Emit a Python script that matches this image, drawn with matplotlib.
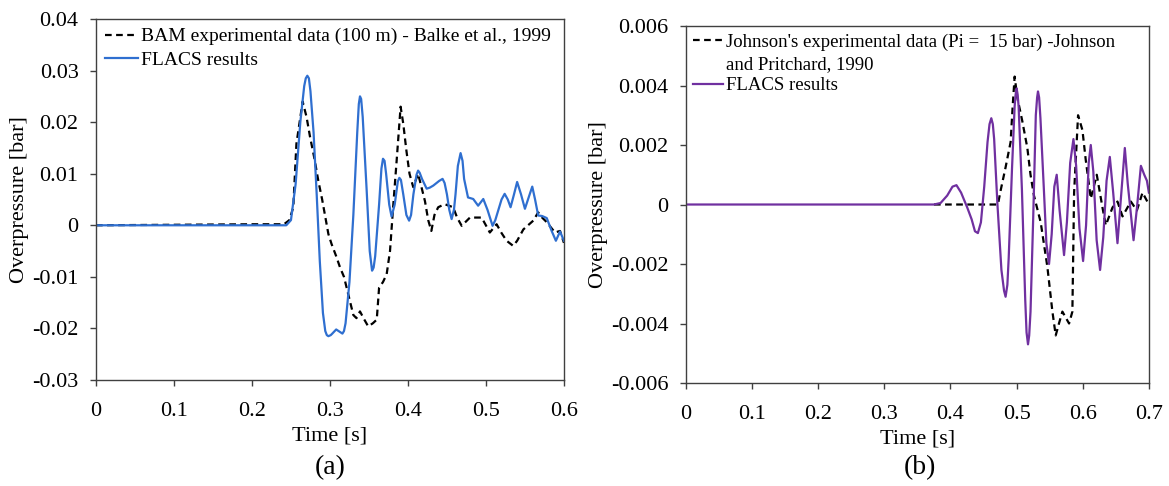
import matplotlib
matplotlib.use("Agg")
import matplotlib.pyplot as plt
from matplotlib.lines import Line2D
from matplotlib.ticker import FormatStrFormatter

plt.rcParams['font.family'] = ['Liberation Serif', 'DejaVu Serif']
plt.rcParams['axes.unicode_minus'] = False

# (a) BAM experiment vs FLACS
bam_t = [0, 0.20, 0.241, 0.248, 0.253, 0.257, 0.2615, 0.265, 0.270, 0.2744, 0.280, 0.285, 0.290,
         0.298, 0.302, 0.308, 0.313, 0.318, 0.3235, 0.330, 0.334, 0.3385, 0.343, 0.349, 0.355,
         0.360, 0.363, 0.368, 0.3727, 0.377, 0.381, 0.3855, 0.3906, 0.394, 0.398, 0.402, 0.4068,
         0.413, 0.418, 0.4218, 0.426, 0.430, 0.434, 0.4388, 0.447, 0.458, 0.463, 0.4689, 0.4795,
         0.4945, 0.505, 0.5137, 0.520, 0.5265, 0.535, 0.540, 0.548, 0.5607, 0.567, 0.572, 0.578,
         0.5885, 0.595, 0.600]
bam_p = [0, 0.0002, 0.0002, 0.001, 0.0035, 0.0158, 0.0204, 0.024, 0.021, 0.0172, 0.013, 0.0087, 0.005,
         -0.0017, -0.0036, -0.006, -0.0082, -0.010, -0.0134, -0.0174, -0.018, -0.0167, -0.018, -0.0196, -0.019,
         -0.0183, -0.0121, -0.011, -0.0095, -0.005, 0.0035, 0.0125, 0.023, 0.0197, 0.0145, 0.010, 0.0074,
         0.010, 0.007, 0.0047, 0.001, -0.0011, 0.002, 0.0035, 0.0041, 0.0035, 0.0015, -0.0001, 0.0015,
         0.0015, -0.0014, 0.0002, -0.0015, -0.003, -0.004, -0.003, -0.0008, 0.0009, 0.0025, 0.0015, 0.0006,
         -0.0014, -0.0011, -0.0034]

flacs_a_t = [0, 0.244, 0.250, 0.256, 0.262, 0.267, 0.269, 0.271, 0.273, 0.275, 0.279, 0.283, 0.287,
             0.291, 0.294, 0.296, 0.298, 0.301, 0.303, 0.308, 0.313, 0.316, 0.318, 0.320, 0.325, 0.330,
             0.335, 0.337, 0.3385, 0.340, 0.342, 0.347, 0.351, 0.354, 0.356, 0.358, 0.363, 0.366, 0.368,
             0.370, 0.372, 0.376, 0.379, 0.383, 0.387, 0.389, 0.391, 0.394, 0.398, 0.4015, 0.404, 0.407,
             0.411, 0.413, 0.415, 0.418, 0.424, 0.428, 0.4325, 0.440, 0.4444, 0.447, 0.450, 0.453,
             0.456, 0.459, 0.461, 0.464, 0.4675, 0.470, 0.472, 0.477, 0.4837, 0.490, 0.4966, 0.502,
             0.5085, 0.512, 0.516, 0.520, 0.524, 0.528, 0.5316, 0.536, 0.540, 0.545, 0.550, 0.555,
             0.5594, 0.563, 0.567, 0.572, 0.578, 0.584, 0.5897, 0.595, 0.600]
flacs_a_p = [0, 0, 0.001, 0.008, 0.020, 0.027, 0.0285, 0.029, 0.0285, 0.026, 0.018, 0.006, -0.007,
             -0.017, -0.0205, -0.0213, -0.0215, -0.0213, -0.021, -0.0202, -0.0207, -0.021, -0.0205, -0.019,
             -0.011, 0.002, 0.018, 0.0235, 0.025, 0.0245, 0.021, 0.007, -0.005, -0.0088, -0.0082, -0.006,
             0.004, 0.011, 0.0129, 0.0125, 0.010, 0.004, 0.0017, 0.004, 0.0085, 0.0092, 0.0088, 0.006,
             0.002, 0.0009, 0.002, 0.006, 0.0098, 0.0106, 0.0102, 0.009, 0.0071, 0.0073, 0.0077, 0.0086,
             0.0090, 0.0082, 0.006, 0.003, 0.0012, 0.003, 0.006, 0.0115, 0.014, 0.0125, 0.009, 0.0054,
             0.0051, 0.0038, 0.0051, 0.003, -0.0001, 0.001, 0.003, 0.005, 0.0061, 0.005, 0.0035, 0.006,
             0.0084, 0.006, 0.0032, 0.0055, 0.0075, 0.005, 0.0019, 0.0018, 0.0014, -0.001, -0.003,
             -0.0012, -0.003]

# (b) Johnson experiment vs FLACS
john_t = [0.375, 0.4717, 0.4758, 0.4833, 0.4909, 0.494, 0.497, 0.501, 0.5086, 0.5162, 0.521, 0.5262,
          0.5364, 0.5465, 0.5541, 0.5591, 0.564, 0.5692, 0.5793, 0.5843, 0.5869, 0.5929, 0.5995,
          0.6045, 0.6121, 0.6212, 0.6298, 0.6348, 0.645, 0.6525, 0.6601, 0.6727, 0.6818, 0.6904, 0.700]
john_p = [0, 0, 0.00047, 0.00125, 0.0021, 0.0033, 0.0043, 0.0036, 0.0028, 0.0019, 0.0010, 0.0003,
          -0.0006, -0.0021, -0.0036, -0.0044, -0.0040, -0.0036, -0.0040, -0.0036, 0.0004, 0.0030, 0.0025,
          0.0015, 0.0002, 0.0010, -0.0001, -0.0007, -0.0001, 0.0001, -0.0004, 0.0001, -0.0002, 0.0004, 0.0]

flacs_b_t = [0, 0.375, 0.385, 0.395, 0.403, 0.409, 0.416, 0.4253, 0.432, 0.437, 0.4414, 0.446, 0.451,
             0.456, 0.459, 0.4617, 0.464, 0.466, 0.471, 0.477, 0.481, 0.4833, 0.486, 0.488, 0.493, 0.497,
             0.4985, 0.500, 0.5015, 0.503, 0.508, 0.513, 0.515, 0.5172, 0.519, 0.521, 0.525, 0.529,
             0.531, 0.5323, 0.534, 0.536, 0.541, 0.545, 0.549, 0.553, 0.557, 0.5606, 0.565, 0.5717,
             0.576, 0.581, 0.5859, 0.590, 0.595, 0.6005, 0.605, 0.609, 0.6121, 0.616, 0.621, 0.6262,
             0.631, 0.636, 0.6409, 0.646, 0.6525, 0.658, 0.6636, 0.668, 0.6768, 0.682, 0.6879, 0.693,
             0.697, 0.700]
flacs_b_p = [0, 0, 0.00005, 0.0003, 0.0006, 0.00065, 0.0004, -0.0001, -0.0005, -0.0009, -0.00096, -0.0006, 0.0006,
             0.0021, 0.0027, 0.0029, 0.0027, 0.0022, 0.0, -0.0022, -0.0029, -0.0031, -0.0027, -0.0018, 0.0012,
             0.0033, 0.0037, 0.0039, 0.0037, 0.0033, 0.0005, -0.0032, -0.0043, -0.0047, -0.0044, -0.0036,
             -0.0005, 0.0030, 0.0036, 0.0038, 0.0036, 0.0029, 0.0006, -0.0013, -0.0020, -0.0010, 0.0006,
             0.0010, -0.0002, -0.0017, -0.0006, 0.0014, 0.0022, 0.0013, -0.0008, -0.0019, -0.0007, 0.0014,
             0.0020, 0.0011, -0.0012, -0.0022, -0.0011, 0.0008, 0.0016, 0.0004, -0.0013, 0.0003, 0.0019,
             0.0007, -0.0012, -0.0001, 0.0013, 0.0010, 0.0008, 0.0004]

xticks_a = [0, 0.1, 0.2, 0.3, 0.4, 0.5, 0.6]
yticks_a = [-0.03, -0.02, -0.01, 0, 0.01, 0.02, 0.03, 0.04]
xticks_b = [0, 0.1, 0.2, 0.3, 0.4, 0.5, 0.6, 0.7]
yticks_b = [-0.006, -0.004, -0.002, 0, 0.002, 0.004, 0.006]

blue = '#2F6FD0'
purple = '#7030A0'
dash = (0, (3, 2))

fig = plt.figure(figsize=(11.69, 4.86), dpi=100)
ax1 = fig.add_axes([0.0821, 0.2181, 0.4003, 0.7428])
ax2 = fig.add_axes([0.5868, 0.2119, 0.3960, 0.7346])


def style(ax, xt, yt):
    ax.set_xticks(xt)
    ax.set_yticks(yt)
    ax.set_xlim(xt[0], xt[-1])
    ax.set_ylim(yt[0], yt[-1])
    ax.xaxis.set_major_formatter(FormatStrFormatter('%g'))
    ax.yaxis.set_major_formatter(FormatStrFormatter('%g'))
    ax.tick_params(direction='out', length=4.5, width=1, color='#404040',
                   labelsize=16, top=False, right=False)
    ax.tick_params(axis='y', pad=8)
    ax.tick_params(axis='x', pad=11)
    for s in ax.spines.values():
        s.set_color('#404040')
        s.set_linewidth(1)
    ax.set_xlabel('Time [s]', fontsize=16, labelpad=4)
    ax.set_ylabel('Overpressure [bar]', fontsize=16, labelpad=2)
    for ln in ax.get_lines():
        ln.set_solid_joinstyle('round')


# (a)
ax1.plot(bam_t, bam_p, color='black', lw=1.6, linestyle=dash,
         label='BAM experimental data (100 m) - Balke et al., 1999')
ax1.plot(flacs_a_t, flacs_a_p, color=blue, lw=1.6, label='FLACS results')
style(ax1, xticks_a, yticks_a)
ax1.legend(loc='upper left', frameon=False, fontsize=14, handlelength=1.7,
           handletextpad=0.15, labelspacing=0.3, borderpad=0.25, borderaxespad=0.2)

# (b)
ax2.plot(john_t, john_p, color='black', lw=1.6, linestyle=dash)
ax2.plot(flacs_b_t, flacs_b_p, color=purple, lw=1.6)
style(ax2, xticks_b, yticks_b)
h = [Line2D([], [], color='black', lw=1.6, linestyle=dash),
     Line2D([], [], color='none', lw=0),
     Line2D([], [], color=purple, lw=1.6)]
lab = ["Johnson's experimental data (Pi =  15 bar) -Johnson",
       'and Pritchard, 1990',
       'FLACS results']
ax2.legend(h, lab, loc='upper left', frameon=False, fontsize=13.5, handlelength=1.6,
           handletextpad=0.15, labelspacing=0.25, borderpad=0.25, borderaxespad=0.15)

fig.text(0.2823, 0.037, '(a)', ha='center', va='center', fontsize=20)
fig.text(0.7870, 0.037, '(b)', ha='center', va='center', fontsize=20)

fig.savefig('out.png', dpi=100)
